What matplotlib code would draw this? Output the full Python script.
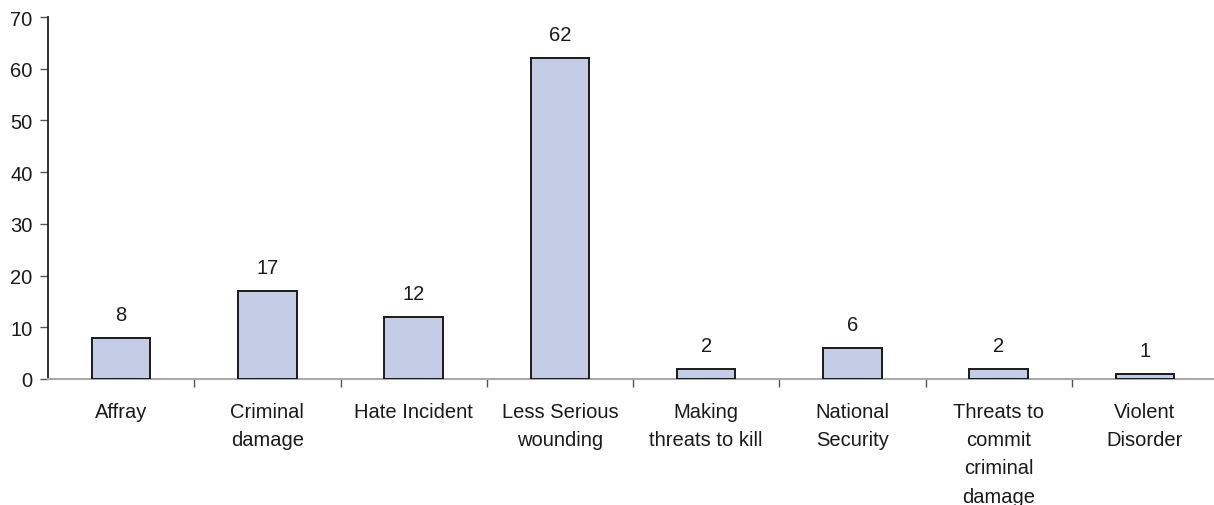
import matplotlib
matplotlib.use("Agg")
import matplotlib.pyplot as plt
import numpy as np

categories = ["Affray", "Criminal\ndamage", "Hate Incident", "Less Serious\nwounding",
              "Making\nthreats to kill", "National\nSecurity",
              "Threats to\ncommit\ncriminal\ndamage", "Violent\nDisorder"]
counts = [8, 17, 12, 62, 2, 6, 2, 1]
y_ticks = [0, 10, 20, 30, 40, 50, 60, 70]

plt.rcParams["font.family"] = ["Liberation Sans", "DejaVu Sans"]

fig = plt.figure(figsize=(12.14, 5.06), dpi=100)
ax = fig.add_axes([48 / 1214, 1 - 380 / 506, 1170 / 1214, 362 / 506])

x = np.arange(len(categories))
ax.bar(x, counts, width=0.4, color="#c5cce6", edgecolor="#1a1a1a", linewidth=1.4, zorder=3)

for xi, v in zip(x, counts):
    ax.annotate(str(v), (xi, v), xytext=(0, 10), textcoords="offset points",
                ha="center", va="bottom", fontsize=14.5, color="#1a1a1a")

ax.set_xlim(-0.5, len(categories) - 0.5)
ax.set_ylim(0, 70)
ax.set_yticks(y_ticks)
ax.tick_params(axis="y", direction="out", length=6, width=1, color="#555555",
               labelsize=14.5, labelcolor="#1a1a1a", pad=5)

# category boundaries carry the x tick marks; labels sit at bar centres
ax.set_xticks(x[:-1] + 0.5)
ax.set_xticklabels([])
ax.tick_params(axis="x", direction="out", length=6, width=1, color="#555555")
for xi, lab in zip(x, categories):
    ax.text(xi, -4.4, lab, ha="center", va="top", fontsize=14.5, color="#1a1a1a",
            linespacing=1.62, transform=ax.transData)

for s in ["top", "right"]:
    ax.spines[s].set_visible(False)
ax.spines["left"].set_color("#222222")
ax.spines["left"].set_linewidth(1.3)
ax.spines["bottom"].set_color("#aaaaaa")
ax.spines["bottom"].set_linewidth(1.5)

fig.savefig("out.png", dpi=100)
